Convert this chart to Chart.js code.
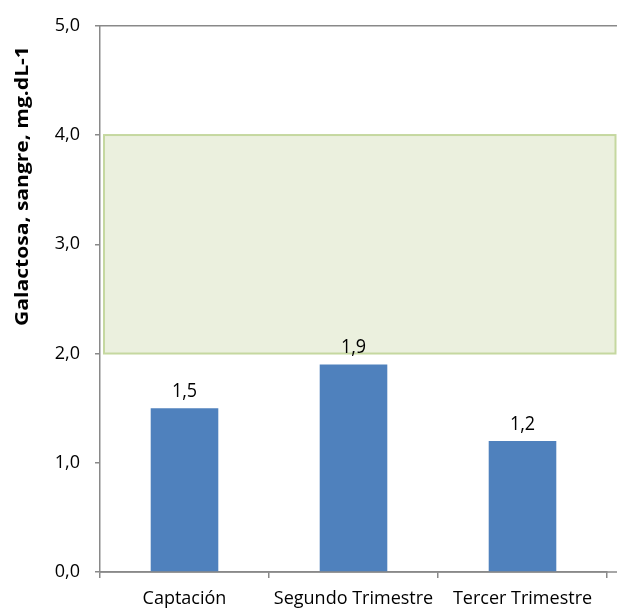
<!DOCTYPE html>
<html>
<head>
<meta charset="utf-8">
<script src="https://cdn.jsdelivr.net/npm/chart.js@4/dist/chart.umd.min.js"></script>
<style>
  html, body { margin: 0; padding: 0; background: #ffffff; overflow: hidden; }
  #wrap { width: 617px; height: 611px; position: relative; }
</style>
</head>
<body>
<div id="wrap"><canvas id="c" width="617" height="611"></canvas></div>
<script>
// Blood galactosa by stage, with the reference range shaded
const categories = ['Captación', 'Segundo Trimestre', 'Tercer Trimestre'];
const galactosa = [1.5, 1.9, 1.2];
const referenceRange = [2.0, 4.0];
const yTicks = [0, 1, 2, 3, 4, 5];
const yTitle = 'Galactosa, sangre, mg.dL-1';

const FONT = '"Open Sans", "Liberation Sans", sans-serif';
const AXIS = '#898989';
const fmt = v => v.toFixed(1).replace('.', ',');

const decorations = {
  id: 'decorations',
  beforeDatasetsDraw(chart) {
    const { ctx, chartArea: a, scales: { y } } = chart;
    const yTop = y.getPixelForValue(referenceRange[1]);
    const yBot = y.getPixelForValue(referenceRange[0]);
    const x0 = a.left + 4, x1 = chart.width - 1.5;
    ctx.save();
    ctx.fillStyle = '#EBF0DE';
    ctx.fillRect(x0, yTop, x1 - x0, yBot - yTop);
    ctx.strokeStyle = '#C5D8A0';
    ctx.lineWidth = 2;
    ctx.strokeRect(x0, yTop, x1 - x0, yBot - yTop);
    // plot-area top border and x-axis line run to the edge
    ctx.strokeStyle = AXIS;
    ctx.lineWidth = 1.5;
    ctx.beginPath();
    ctx.moveTo(a.left, a.top);
    ctx.lineTo(chart.width, a.top);
    ctx.moveTo(a.left, a.bottom);
    ctx.lineTo(chart.width, a.bottom);
    ctx.stroke();
    ctx.restore();
  },
  afterDatasetsDraw(chart) {
    const { ctx } = chart;
    const meta = chart.getDatasetMeta(0);
    ctx.save();
    ctx.fillStyle = '#000';
    ctx.font = '18px ' + FONT;
    ctx.textAlign = 'center';
    ctx.textBaseline = 'alphabetic';
    meta.data.forEach((bar, i) => {
      ctx.save();
      ctx.translate(bar.x, bar.y - 11);
      ctx.scale(1, 1.15);
      ctx.fillText(fmt(galactosa[i]), 0, 0);
      ctx.restore();
    });
    // axis title
    ctx.translate(28, 186);
    ctx.rotate(-Math.PI / 2);
    ctx.scale(1.17, 1);
    ctx.font = 'bold 18px ' + FONT;
    ctx.fillText(yTitle, 0, 0);
    ctx.restore();
  }
};

new Chart(document.getElementById('c'), {
  type: 'bar',
  data: {
    labels: categories,
    datasets: [{
      data: galactosa,
      backgroundColor: '#4F81BD',
      borderWidth: 0,
      barPercentage: 0.4,
      categoryPercentage: 1.0
    }]
  },
  options: {
    responsive: false,
    animation: false,
    devicePixelRatio: 1,
    layout: { padding: { top: 20, right: 10, bottom: 0, left: 0 } },
    plugins: { legend: { display: false }, tooltip: { enabled: false }, title: { display: false } },
    scales: {
      x: {
        offset: true,
        grid: {
          display: true,
          offset: true,
          drawOnChartArea: false,
          tickLength: 6,
          color: ctx => (ctx.index === categories.length ? 'rgba(0,0,0,0)' : AXIS),
          lineWidth: 1.5
        },
        border: { display: true, color: AXIS, width: 1.5 },
        ticks: { color: '#000', font: { family: FONT, size: 18 }, padding: 10, maxRotation: 0, autoSkip: false },
        afterFit: s => { s.height = 39; }
      },
      y: {
        min: 0,
        max: 5,
        afterBuildTicks: s => { s.ticks = yTicks.map(v => ({ value: v })); },
        grid: { display: true, drawOnChartArea: false, tickLength: 5, color: AXIS, lineWidth: 1.5 },
        border: { display: true, color: AXIS, width: 1.5 },
        ticks: { color: '#000', font: { family: FONT, size: 18 }, padding: 15, callback: v => fmt(v) },
        afterFit: s => { s.width = 100; }
      }
    }
  },
  plugins: [decorations]
});
</script>
</body>
</html>
